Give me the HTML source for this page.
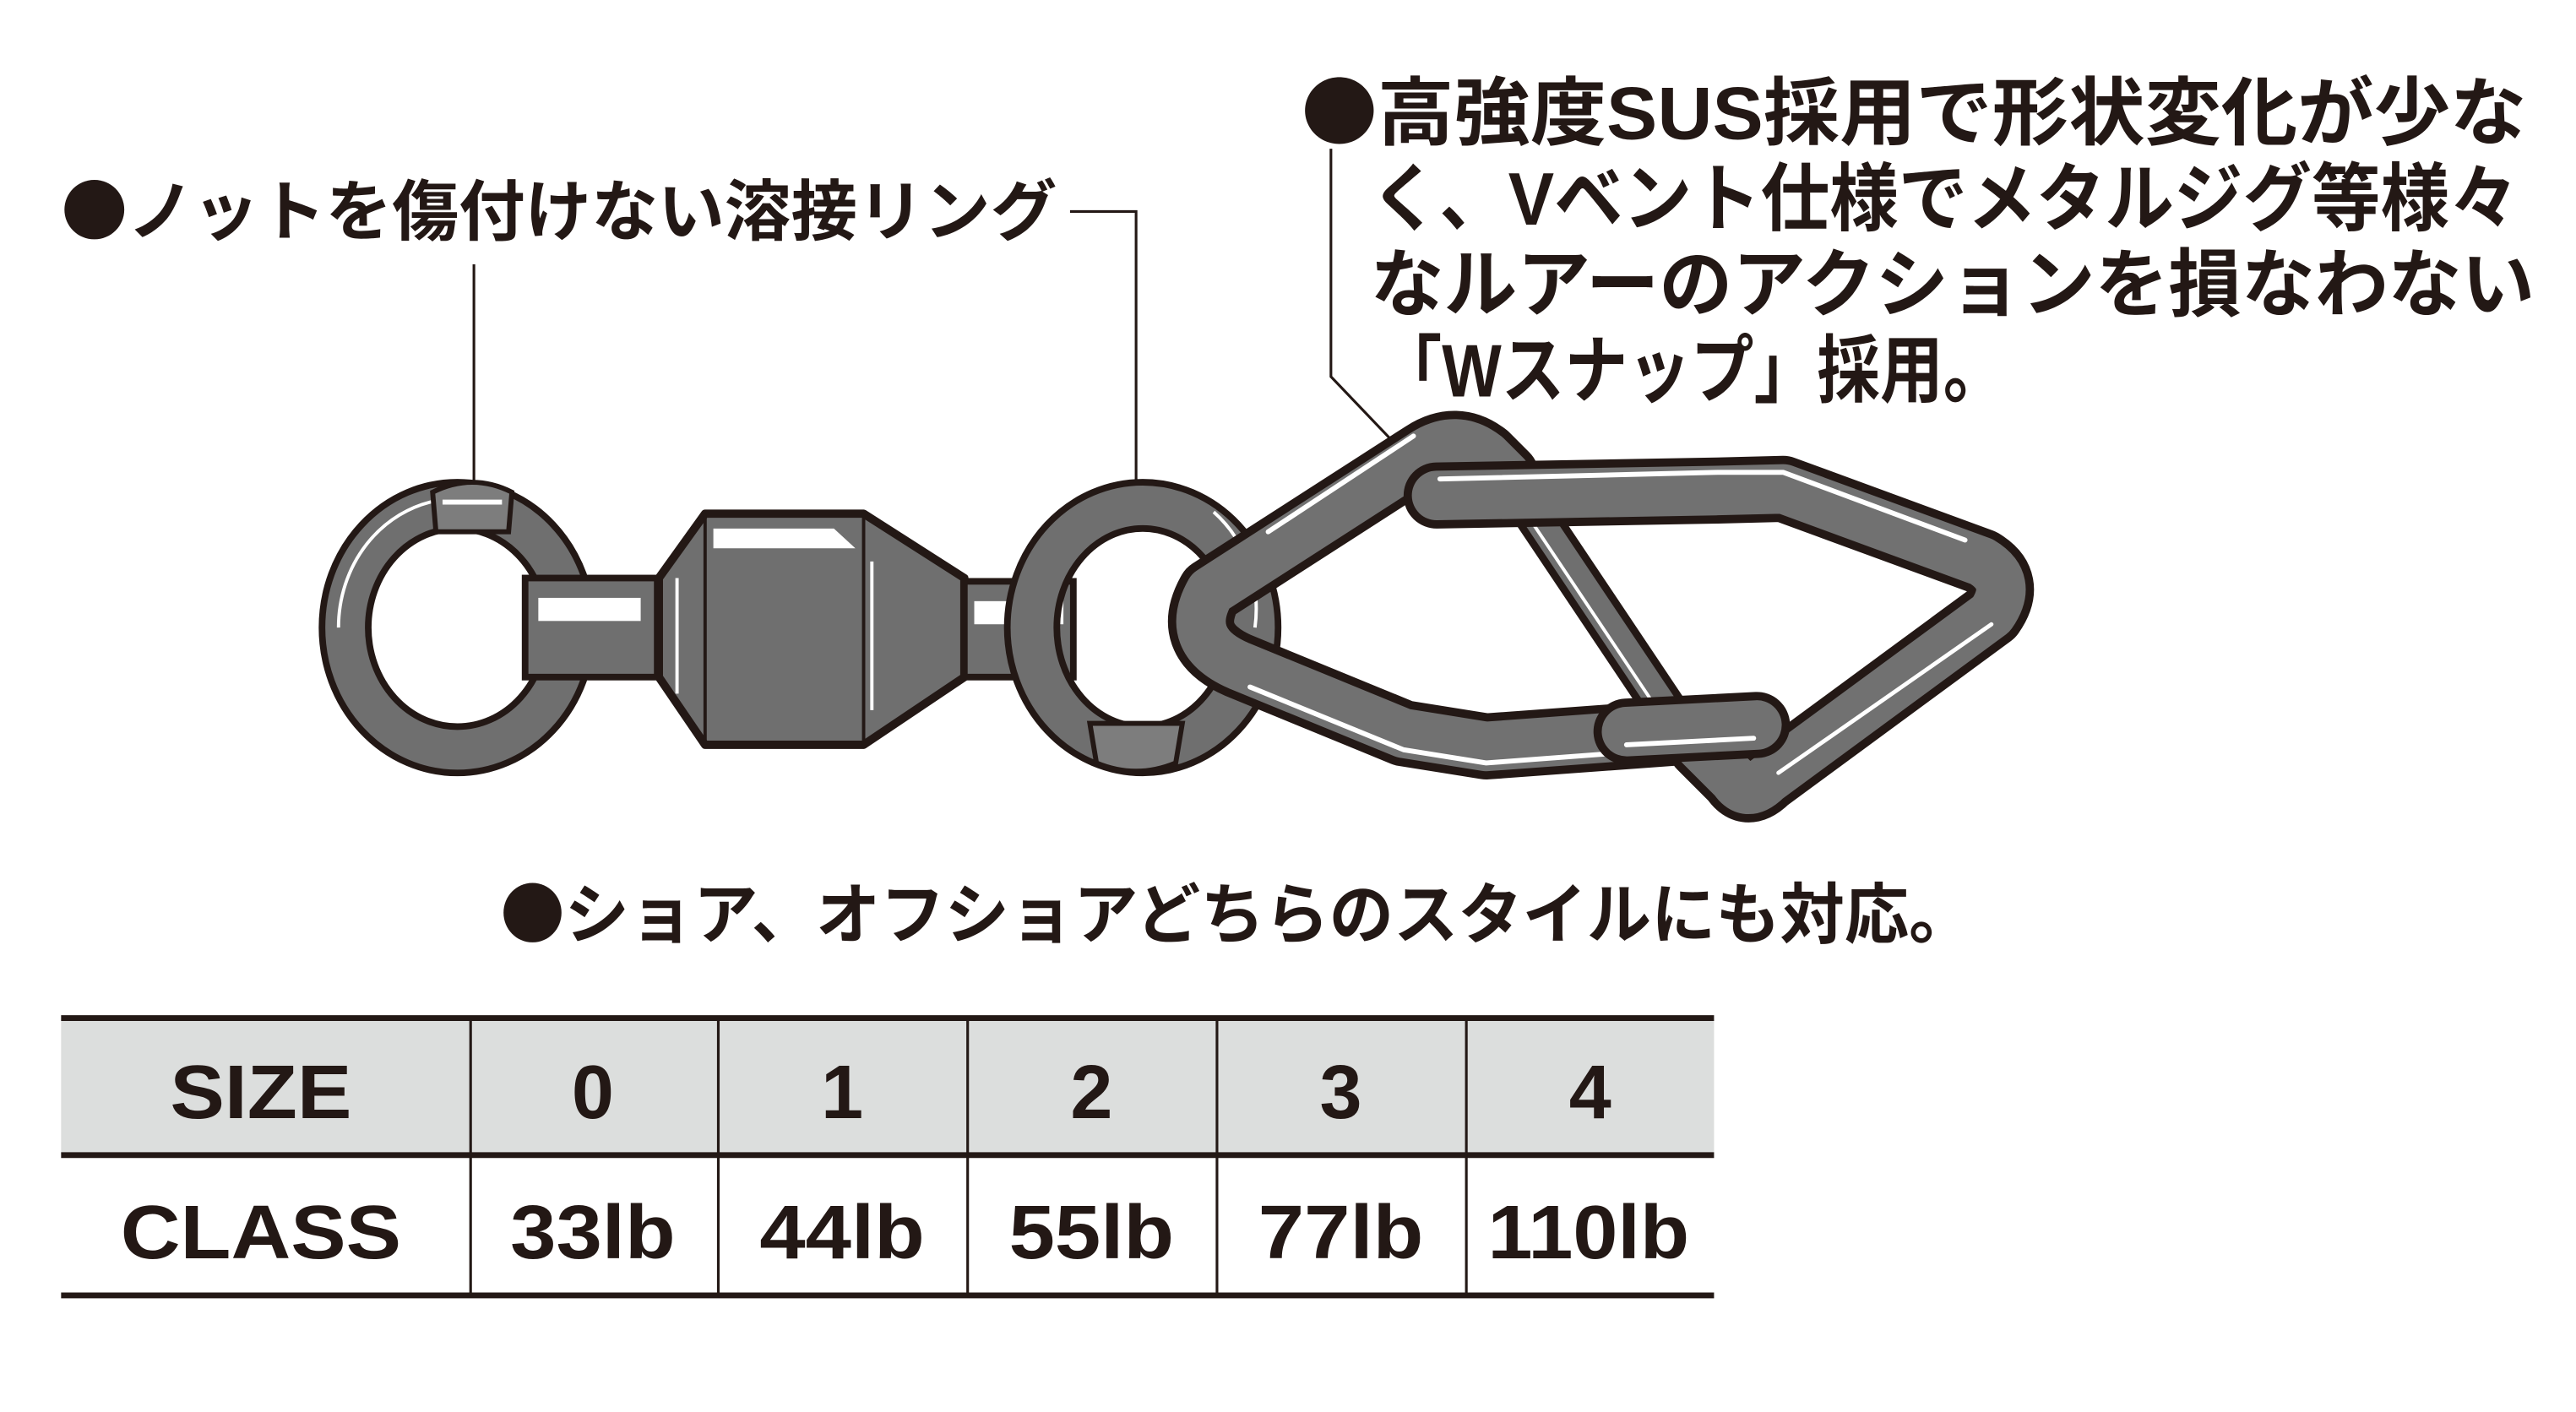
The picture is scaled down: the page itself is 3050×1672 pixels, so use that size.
<!DOCTYPE html>
<html><head><meta charset="utf-8"><style>
html,body{margin:0;padding:0;background:#fff;}
svg{display:block;}
.jp{font-family:"Liberation Sans","Noto Sans CJK JP",sans-serif;font-weight:bold;fill:#231815;}
.bl{font-family:"Noto Sans CJK JP",sans-serif;}
.tb{font-family:"Liberation Sans",sans-serif;font-weight:bold;fill:#231815;text-anchor:middle;}
</style></head><body>
<svg width="3050" height="1672" viewBox="0 0 1560 855" xmlns="http://www.w3.org/2000/svg">
<g fill="none" stroke="#231815" stroke-width="1.6">
<path d="M287 160 L287 294"/>
<path d="M648 128 L688 128 L688 293"/>
<path d="M806 90 L806 228 L848 272"/>
</g>
<text class="jp" x="37" y="142" font-size="40" textLength="603" lengthAdjust="spacingAndGlyphs"><tspan class="bl">●</tspan>ノットを傷付けない溶接リング</text>
<text class="jp" x="788" y="84" font-size="45" textLength="742" lengthAdjust="spacingAndGlyphs"><tspan class="bl">●</tspan>高強度SUS採用で形状変化が少な</text>
<text class="jp" x="830" y="136" font-size="45" textLength="695" lengthAdjust="spacingAndGlyphs">く、Vベント仕様でメタルジグ等様々</text>
<text class="jp" x="830" y="188" font-size="45" textLength="705" lengthAdjust="spacingAndGlyphs">なルアーのアクションを損なわない</text>
<text class="jp" x="835" y="240" font-size="45" textLength="380" lengthAdjust="spacingAndGlyphs">「Wスナップ」採用。</text>
<text class="jp" x="303" y="568" font-size="40" textLength="892" lengthAdjust="spacingAndGlyphs"><tspan class="bl">●</tspan>ショア、オフショアどちらのスタイルにも対応。</text>

<path d="M195 380 a82 88 0 1 0 164 0 a82 88 0 1 0 -164 0 Z M223 380 a54 60 0 1 1 108 0 a54 60 0 1 1 -108 0 Z" fill="#6f6f6f" fill-rule="evenodd" stroke="#231815" stroke-width="4"/>
<path d="M205 380 a72 78 0 0 1 60 -77" fill="none" stroke="#fff" stroke-width="2"/>
<path d="M262 298 Q286 286 310 298 L308 322 L264 322 Z" fill="#7d7d7d" stroke="#231815" stroke-width="3"/>
<path d="M268 304 L304 304" stroke="#fff" stroke-width="3"/>
<rect x="318" y="350" width="80" height="60" fill="#6f6f6f" stroke="#231815" stroke-width="4"/>
<rect x="326" y="362" width="62" height="14" fill="#fff"/>
<polygon points="399,350 427,311 523,311 584,350 584,410 523,451 427,451 399,410" fill="#6f6f6f" stroke="#231815" stroke-width="5" stroke-linejoin="round"/>
<line x1="427" y1="311" x2="427" y2="451" stroke="#231815" stroke-width="2"/>
<line x1="523" y1="311" x2="523" y2="451" stroke="#231815" stroke-width="2"/>
<polygon points="432,320 505,320 518,332 432,332" fill="#fff"/>
<line x1="410" y1="350" x2="410" y2="420" stroke="#fff" stroke-width="2"/>
<line x1="528" y1="340" x2="528" y2="430" stroke="#fff" stroke-width="2"/>
<rect x="584" y="352" width="66" height="58" fill="#6f6f6f" stroke="#231815" stroke-width="4"/>
<rect x="590" y="364" width="54" height="14" fill="#fff"/>
<path d="M610 380 a82 88 0 1 0 164 0 a82 88 0 1 0 -164 0 Z M640 380 a52 60 0 1 1 104 0 a52 60 0 1 1 -104 0 Z" fill="#6f6f6f" fill-rule="evenodd" stroke="#231815" stroke-width="4"/>
<path d="M735 310 a70 76 0 0 1 25 70" fill="none" stroke="#fff" stroke-width="2"/>
<path d="M660 438 L716 438 L712 462 Q688 472 664 462 Z" fill="#7d7d7d" stroke="#231815" stroke-width="3"/>
<g fill="none" stroke-linecap="round" stroke-linejoin="round">
<path d="M930 312 L1009 430" stroke="#231815" stroke-width="26"/>
<path d="M930 312 L1009 430" stroke="#6f6f6f" stroke-width="17"/>
<path d="M929 318 L1000 424" stroke="#fff" stroke-width="2"/>
<path d="M1064 440 L900 452 L850 444 L750 403 Q716 388 733 358 L862 275 Q882 262 900 276 L912 288" stroke="#231815" stroke-width="40"/>
<path d="M1064 440 L900 452 L850 444 L750 403 Q716 388 733 358 L862 275 Q882 262 900 276 L912 288" stroke="#717171" stroke-width="30"/>
<path d="M1060 450 L900 462 L850 454 L757 416" stroke="#fff" stroke-width="3"/>
<path d="M768 322 L856 264" stroke="#fff" stroke-width="3"/>
<path d="M1030 452 L1050 472 Q1058 484 1070 472 L1206 372 Q1220 352 1200 340 L1080 296 L1040 297 L870 300" stroke="#231815" stroke-width="40"/>
<path d="M1030 452 L1050 472 Q1058 484 1070 472 L1206 372 Q1220 352 1200 340 L1080 296 L1040 297 L870 300" stroke="#717171" stroke-width="30"/>
<path d="M1077 468 L1206 378" stroke="#fff" stroke-width="2.5"/>
<path d="M872 290 L1040 286 L1080 286 L1190 327" stroke="#fff" stroke-width="3"/>
<path d="M985 443 L1064 439" stroke="#231815" stroke-width="40"/>
<path d="M985 443 L1064 439" stroke="#717171" stroke-width="30"/>
<path d="M985 451 L1062 447" stroke="#fff" stroke-width="3"/>
</g>

<rect x="37" y="617" width="1001" height="82" fill="#dcdedd"/>
<g stroke="#231815">
<line x1="37" y1="616.5" x2="1038" y2="616.5" stroke-width="3.5"/>
<line x1="37" y1="699.5" x2="1038" y2="699.5" stroke-width="3.5"/>
<line x1="37" y1="784.5" x2="1038" y2="784.5" stroke-width="3.5"/>
<g stroke-width="1.6">
<line x1="285" y1="617" x2="285" y2="784"/>
<line x1="435" y1="617" x2="435" y2="784"/>
<line x1="586" y1="617" x2="586" y2="784"/>
<line x1="737" y1="617" x2="737" y2="784"/>
<line x1="888" y1="617" x2="888" y2="784"/>
</g></g>
<g class="tb" font-size="46">
<text x="158" y="677" textLength="110" lengthAdjust="spacingAndGlyphs">SIZE</text>
<text x="359" y="677">0</text>
<text x="510" y="677">1</text>
<text x="661" y="677">2</text>
<text x="812" y="677">3</text>
<text x="963" y="677">4</text>
<text x="158" y="762" textLength="170" lengthAdjust="spacingAndGlyphs">CLASS</text>
<text x="359" y="762" textLength="100" lengthAdjust="spacingAndGlyphs">33lb</text>
<text x="510" y="762" textLength="100" lengthAdjust="spacingAndGlyphs">44lb</text>
<text x="661" y="762" textLength="100" lengthAdjust="spacingAndGlyphs">55lb</text>
<text x="812" y="762" textLength="100" lengthAdjust="spacingAndGlyphs">77lb</text>
<text x="962" y="762" textLength="122" lengthAdjust="spacingAndGlyphs">110lb</text>
</g>
</svg>
</body></html>
